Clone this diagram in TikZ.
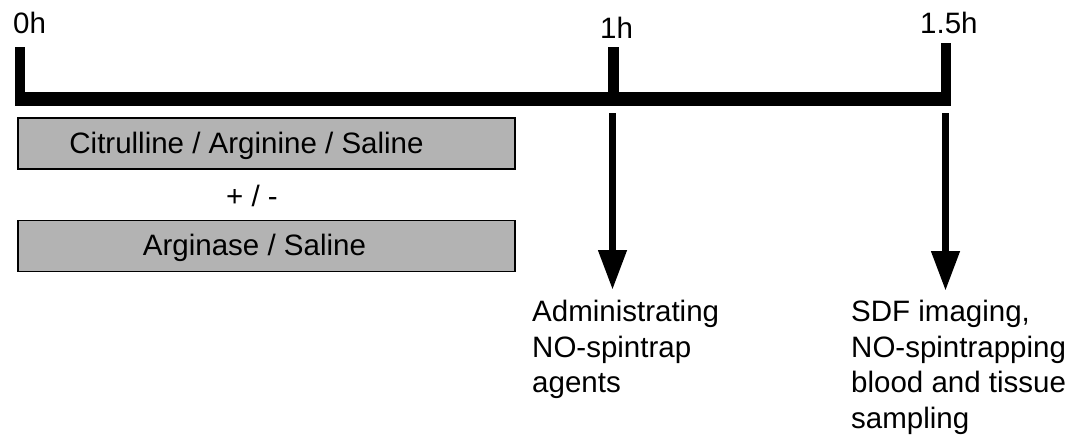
\documentclass[tikz,border=0pt]{standalone}
\usepackage{fontspec}
\setmainfont{Liberation Sans}
\usetikzlibrary{arrows.meta}
\definecolor{boxgray}{HTML}{B3B3B3}
\begin{document}
\begin{tikzpicture}[x=1pt,y=-1pt,
  txt/.style={font=\fontsize{29.5}{35.5}\selectfont, inner sep=0pt, text=black},
  bar/.style={fill=black, draw=none},
  boxs/.style={txt, draw=black, line width=1.8pt, fill=boxgray,
    minimum width=497pt, minimum height=51pt, text height=21pt, text depth=2pt},
  evarrow/.style={line width=7.5pt, -{Triangle[width=27pt,length=40pt]}}]
\useasboundingbox (0,0) rectangle (1074,437);
% timeline
\fill[bar] (15,92) rectangle (951,106);
\fill[bar] (15,47) rectangle (25,92);
\fill[bar] (608,47) rectangle (619,92);
\fill[bar] (941,43) rectangle (951,92);
% tick labels
\node[txt, anchor=base west] (l0) at (13,33) {0h};
\node[txt, anchor=base west] (l1) at (600,38) {1h};
\node[txt, anchor=base west] (l15) at (920,33) {1.5h};
% boxes
\node[boxs] (b1) at (266.5,143.5) {Citrulline / Arginine / Saline\hspace*{40pt}};
\node[txt, anchor=base] (pm) at (252,206) {+ / -};
\node[boxs] (b2) at (266.5,246) {Arginase / Saline\hspace*{24pt}};
% event texts
\node[txt, anchor=north west, align=left] (e1) at (532,300)
  {Administrating\\NO-spintrap\\agents};
\node[txt, anchor=north west, align=left] (e2) at (851,300)
  {SDF imaging,\\NO-spintrapping\\blood and tissue\\sampling};
% arrows
\coordinate (a1s) at (612.5,113);
\coordinate (a1e) at (612.5,290);
\coordinate (a2s) at (945.5,113);
\coordinate (a2e) at (945.5,291);
\draw[evarrow] (a1s) -- (a1e);
\draw[evarrow] (a2s) -- (a2e);
\end{tikzpicture}
\end{document}
